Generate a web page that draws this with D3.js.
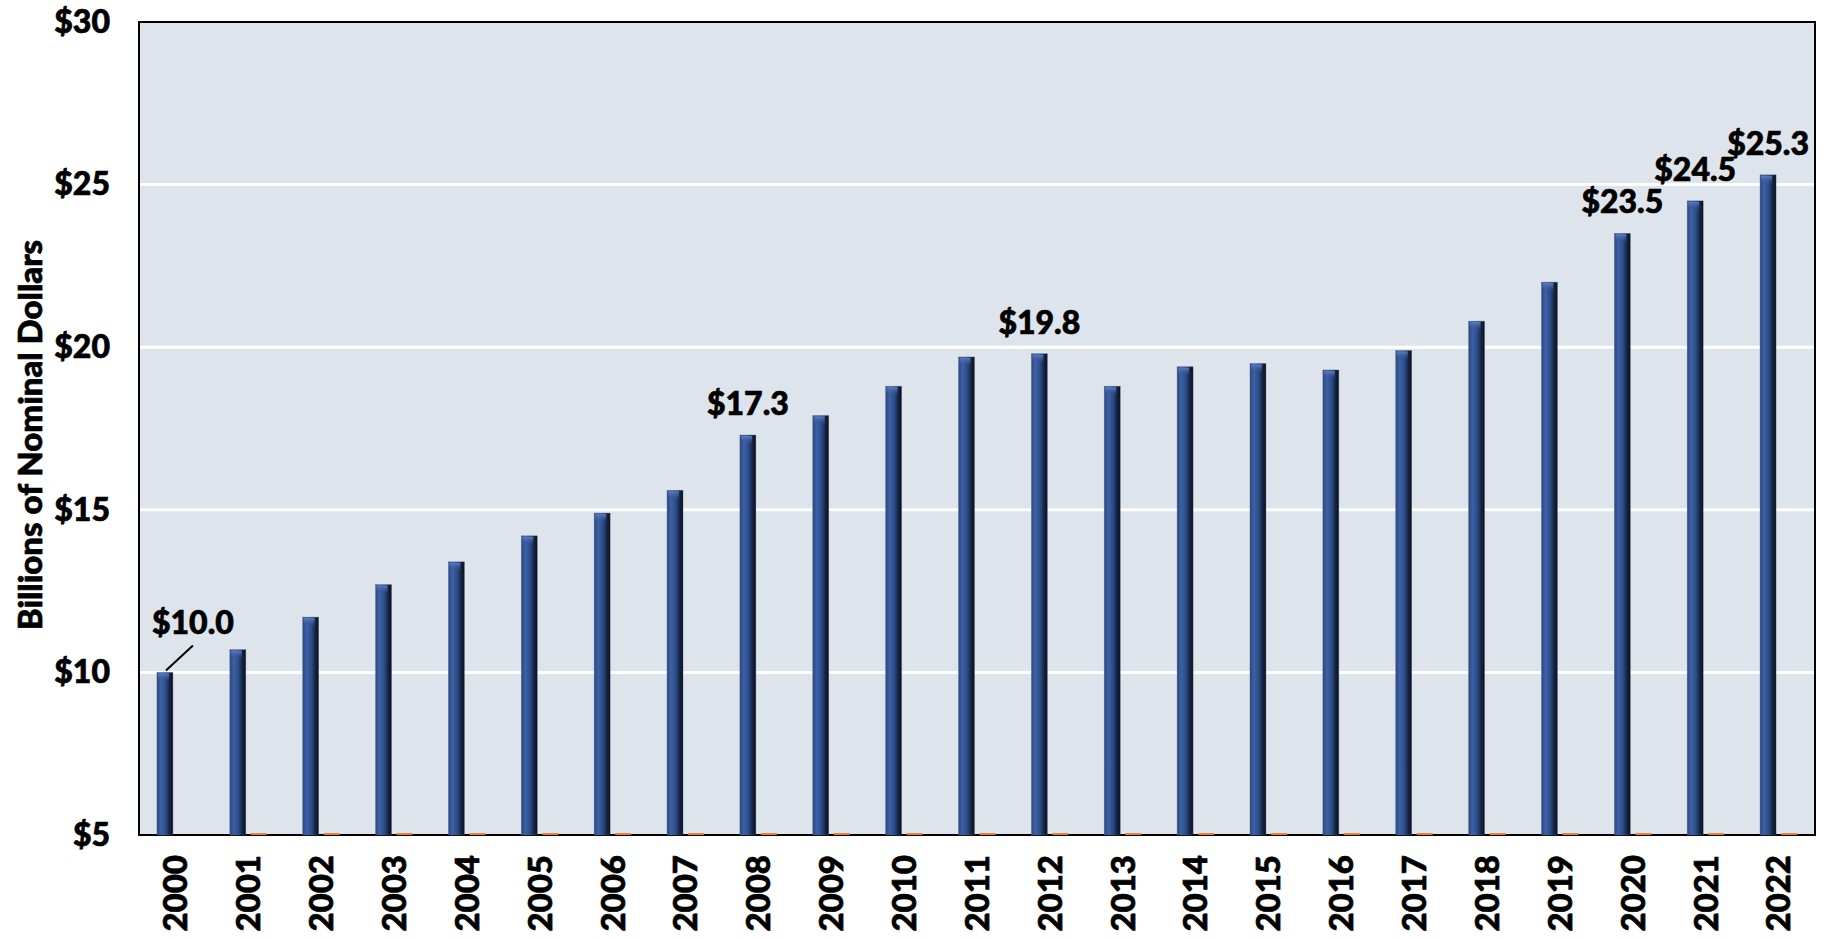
<!DOCTYPE html>
<html>
<head>
<meta charset="utf-8">
<script src="https://cdn.jsdelivr.net/npm/d3@7"></script>
<style>
  html, body { margin: 0; padding: 0; background: #ffffff; }
  svg { display: block; }
  text { font-family: "Lato", "Open Sans", "DejaVu Sans", sans-serif; font-weight: 900; fill: #000; stroke: #000; stroke-width: 0.7px; }
</style>
</head>
<body>
<svg id="chart" width="1829" height="939"></svg>
<script>
// ---- data ----
const years = ["2000","2001","2002","2003","2004","2005","2006","2007","2008","2009","2010",
               "2011","2012","2013","2014","2015","2016","2017","2018","2019","2020","2021","2022"];
const spending = [10.0, 10.7, 11.7, 12.7, 13.4, 14.2, 14.9, 15.6, 17.3, 17.9, 18.8,
                  19.7, 19.8, 18.8, 19.4, 19.5, 19.3, 19.9, 20.8, 22.0, 23.5, 24.5, 25.3];
// second (near-zero) series, shown only as thin orange marks on the baseline
const secondSeries = [null, 5.06, 5.06, 5.06, 5.06, 5.06, 5.06, 5.06, 5.06, 5.06, 5.06,
                      5.06, 5.06, 5.06, 5.06, 5.06, 5.06, 5.06, 5.06, 5.06, 5.06, 5.06, 5.06];
const yTicks = [5, 10, 15, 20, 25, 30];
const labeledYears = ["2000", "2008", "2012", "2020", "2021", "2022"];
const yTitle = "Billions of Nominal Dollars";

// ---- layout ----
const svg = d3.select("#chart");
const plot = { left: 139, right: 1815, top: 22, bottom: 835 };

const x = d3.scaleBand().domain(years).range([plot.left, plot.right]).padding(0);
const x1 = d3.scaleBand().domain(["a", "b"]).range([-18.5, 18.5]).paddingInner(0.238).paddingOuter(0);
const y = d3.scaleLinear().domain([5, 30]).range([plot.bottom, plot.top]);

const defs = svg.append("defs");
const g1 = defs.append("linearGradient").attr("id", "barGrad").attr("x1", "0").attr("x2", "1").attr("y1", "0").attr("y2", "0");
g1.append("stop").attr("offset", "0%").attr("stop-color", "#2a4680");
g1.append("stop").attr("offset", "25%").attr("stop-color", "#3d61a6");
g1.append("stop").attr("offset", "55%").attr("stop-color", "#2c4b88");
g1.append("stop").attr("offset", "80%").attr("stop-color", "#15233f");
g1.append("stop").attr("offset", "100%").attr("stop-color", "#0a1020");
const g2 = defs.append("linearGradient").attr("id", "capGrad").attr("x1", "0").attr("x2", "0").attr("y1", "0").attr("y2", "1");
g2.append("stop").attr("offset", "0%").attr("stop-color", "#5a7cc8");
g2.append("stop").attr("offset", "100%").attr("stop-color", "#2b4a86").attr("stop-opacity", 0);

// plot background
svg.append("rect")
  .attr("x", plot.left).attr("y", plot.top)
  .attr("width", plot.right - plot.left).attr("height", plot.bottom - plot.top)
  .attr("fill", "#dee4eb");

// gridlines
svg.append("g")
  .selectAll("line").data(yTicks.filter(t => t > 5 && t < 30)).join("line")
  .attr("x1", plot.left).attr("x2", plot.right)
  .attr("y1", d => y(d)).attr("y2", d => y(d))
  .attr("stroke", "#ffffff").attr("stroke-width", 3);

// y axis (labels only)
const yAxis = d3.axisLeft(y).tickValues(yTicks).tickFormat(d => "$" + d).tickSize(0).tickPadding(29);
const ya = svg.append("g").attr("transform", `translate(${plot.left},0)`).call(yAxis);
ya.select(".domain").remove();
ya.selectAll("text").attr("font-size", 32).attr("font-family", "Lato, sans-serif").attr("font-weight", 900).attr("fill", "#000");

// bars
const barG = svg.append("g");
const mainData = years.map((yr, i) => ({ yr, v: spending[i] }));
barG.selectAll("rect.main").data(mainData).join("rect")
  .attr("class", "main")
  .attr("x", d => x(d.yr) + x.bandwidth() / 2 + x1("a"))
  .attr("width", x1.bandwidth())
  .attr("y", d => y(d.v))
  .attr("height", d => y(5) - y(d.v))
  .attr("fill", "url(#barGrad)")
  .attr("stroke", "#5a6478").attr("stroke-width", 0.6).attr("stroke-opacity", 0.6);
barG.selectAll("rect.cap").data(mainData).join("rect")
  .attr("class", "cap")
  .attr("x", d => x(d.yr) + x.bandwidth() / 2 + x1("a") + 1)
  .attr("width", x1.bandwidth() - 5)
  .attr("y", d => y(d.v) + 1)
  .attr("height", 9)
  .attr("fill", "url(#capGrad)");

// plot border
svg.append("rect")
  .attr("x", plot.left).attr("y", plot.top)
  .attr("width", plot.right - plot.left).attr("height", plot.bottom - plot.top)
  .attr("fill", "none").attr("stroke", "#000").attr("stroke-width", 2);

// second series (drawn over the axis line)
barG.raise();
svg.append("g").selectAll("rect.second")
  .data(years.map((yr, i) => ({ yr, v: secondSeries[i] })).filter(d => d.v != null)).join("rect")
  .attr("class", "second")
  .attr("x", d => x(d.yr) + x.bandwidth() / 2 + x1("b"))
  .attr("width", x1.bandwidth())
  .attr("y", d => y(d.v))
  .attr("height", d => y(5) - y(d.v))
  .attr("fill", "#f07d22");

// x axis labels
const xAxis = d3.axisBottom(x).tickSize(0).tickPadding(0);
const xa = svg.append("g").attr("transform", `translate(0,${plot.bottom})`).call(xAxis);
xa.select(".domain").remove();
xa.selectAll("text")
  .attr("font-size", 33).attr("font-family", "Lato, sans-serif").attr("font-weight", 900).attr("fill", "#000")
  .attr("text-anchor", "end")
  .attr("transform", "rotate(-90)")
  .attr("x", -20).attr("y", 0).attr("dy", "0.36em");

// value labels
const labG = svg.append("g");
labeledYears.forEach(yr => {
  const i = years.indexOf(yr);
  const v = spending[i];
  const cx = x(yr) + x.bandwidth() / 2 + x1("a") + x1.bandwidth() / 2;
  if (yr === "2000") {
    labG.append("line")
      .attr("x1", cx + 1).attr("y1", y(v) - 2)
      .attr("x2", cx + 28).attr("y2", y(v) - 27)
      .attr("stroke", "#000").attr("stroke-width", 2);
    labG.append("text").attr("x", cx + 28).attr("y", y(v) - 38)
      .attr("text-anchor", "middle").attr("font-size", 32).text("$" + v.toFixed(1));
  } else {
    labG.append("text").attr("x", cx).attr("y", y(v) - 20)
      .attr("text-anchor", "middle").attr("font-size", 32).text("$" + v.toFixed(1));
  }
});

// y title
svg.append("text")
  .attr("transform", `translate(42,435) rotate(-90)`)
  .attr("text-anchor", "middle")
  .attr("font-size", 33)
  .text(yTitle);
</script>
</body>
</html>
